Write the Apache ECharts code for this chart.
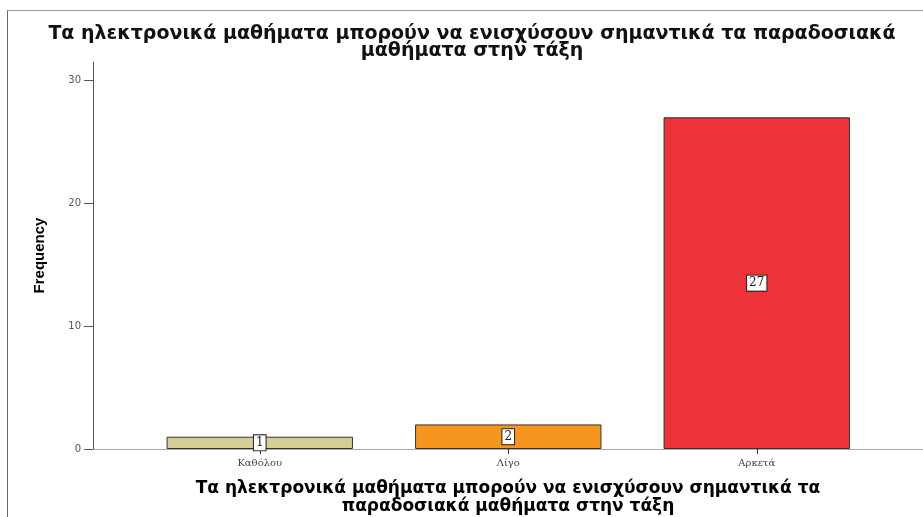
<!DOCTYPE html>
<html>
<head>
<meta charset="utf-8">
<script src="https://cdn.jsdelivr.net/npm/echarts@6/dist/echarts.min.js"></script>
<style>
  html, body { margin: 0; padding: 0; background: #fff; }
  #frame { position: absolute; left: 7px; top: 10px; width: 916px; height: 507px;
           border-left: 1px solid #666; border-top: 1px solid #999; }
  #chart { position: absolute; left: 0; top: 0; width: 923px; height: 517px; }
</style>
</head>
<body>
<div id="frame"></div>
<div id="chart"></div>
<script>
// Response categories and their counts
const categories = ['Καθόλου', 'Λίγο', 'Αρκετά'];
const frequencies = [1, 2, 27];
const barColors = ['#d3cf96', '#f7961e', '#ee3338'];
const yTicks = [0, 10, 20, 30];

const titleText = 'Τα ηλεκτρονικά μαθήματα μπορούν να ενισχύσουν σημαντικά τα παραδοσιακά\nμαθήματα στην τάξη';
const xTitleText = 'Τα ηλεκτρονικά μαθήματα μπορούν να ενισχύσουν σημαντικά τα\nπαραδοσιακά μαθήματα στην τάξη';

const chart = echarts.init(document.getElementById('chart'), null, { renderer: 'canvas' });

const gridTop = 62, gridBottom = 68;
const yMax = 31.5;

chart.setOption({
  backgroundColor: 'transparent',
  animation: false,
  title: {
    text: titleText,
    left: 467, top: 21, textAlign: 'center',
    textStyle: { fontFamily: 'DejaVu Sans', fontSize: 19, fontWeight: 'bold', color: '#111', lineHeight: 17 }
  },
  grid: [
    { left: 135.5, right: 42, top: gridTop, bottom: gridBottom, containLabel: false, outerBoundsMode: 'none' },
    { left: 93, right: 0, top: gridTop, bottom: gridBottom, containLabel: false, outerBoundsMode: 'none' }
  ],
  xAxis: [
    {
      type: 'category', gridIndex: 0, data: categories,
      axisLine: { show: false },
      axisTick: { show: true, alignWithLabel: true, length: 5, lineStyle: { color: '#333' } },
      axisLabel: { fontFamily: 'DejaVu Serif', fontSize: 10, color: '#444', margin: 9 }
    },
    {
      type: 'value', gridIndex: 1, min: 0, max: 1,
      axisLine: { show: true, onZero: false, lineStyle: { color: '#aaa', width: 1 } },
      axisTick: { show: false }, axisLabel: { show: false }, splitLine: { show: false },
      name: xTitleText, nameLocation: 'middle', nameGap: 31,
      nameTextStyle: { fontFamily: 'DejaVu Sans', fontWeight: 'bold', fontSize: 17, color: '#000', lineHeight: 18 }
    }
  ],
  yAxis: [
    {
      type: 'value', gridIndex: 0, min: 0, max: yMax, interval: 10, offset: 42.5,
      axisLine: { show: true, lineStyle: { color: '#555', width: 1 } },
      axisTick: { show: true, length: 9, customValues: yTicks, lineStyle: { color: '#555' } },
      axisLabel: {
        fontFamily: 'DejaVu Sans', fontSize: 10, color: '#555', margin: 12,
        customValues: yTicks
      },
      splitLine: { show: false },
      name: 'Frequency', nameLocation: 'middle', nameGap: 46, nameRotate: 90,
      nameTextStyle: { fontFamily: 'Liberation Sans Narrow, Liberation Sans', fontWeight: 'bold', fontSize: 15, color: '#000' }
    },
    {
      type: 'value', gridIndex: 1, min: 0, max: yMax, show: false
    }
  ],
  series: [
    {
      type: 'bar', xAxisIndex: 0, yAxisIndex: 0,
      barWidth: '75%',
      data: frequencies.map((v, i) => ({ value: v, itemStyle: { color: barColors[i] } })),
      itemStyle: { borderColor: '#333', borderWidth: 1 },
      label: {
        show: true, position: 'inside',
        fontFamily: 'DejaVu Serif', fontSize: 12, color: '#222',
        backgroundColor: '#fff', borderColor: '#222', borderWidth: 1, padding: [2, 2, 1, 2]
      }
    }
  ]
});
</script>
</body>
</html>
